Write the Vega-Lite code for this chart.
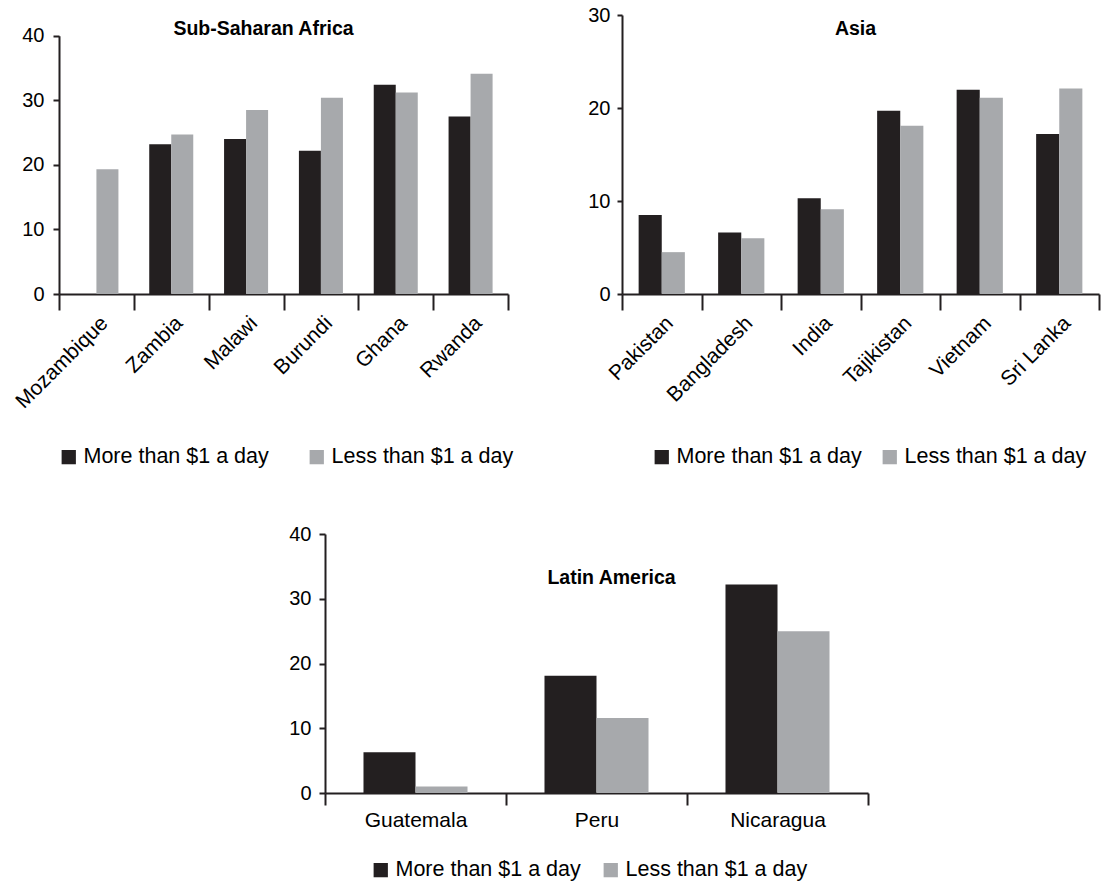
{
  "$schema": "https://vega.github.io/schema/vega-lite/v6.json",
  "padding": {"left": 11, "top": 5, "right": 2, "bottom": 5},
  "background": "white",
  "datasets": {
    "ssa": [
      {"country": "Mozambique", "series": "Less than $1 a day", "value": 19.3},
      {"country": "Zambia", "series": "More than $1 a day", "value": 23.2},
      {"country": "Zambia", "series": "Less than $1 a day", "value": 24.7},
      {"country": "Malawi", "series": "More than $1 a day", "value": 24.0},
      {"country": "Malawi", "series": "Less than $1 a day", "value": 28.5},
      {"country": "Burundi", "series": "More than $1 a day", "value": 22.2},
      {"country": "Burundi", "series": "Less than $1 a day", "value": 30.4},
      {"country": "Ghana", "series": "More than $1 a day", "value": 32.4},
      {"country": "Ghana", "series": "Less than $1 a day", "value": 31.2},
      {"country": "Rwanda", "series": "More than $1 a day", "value": 27.5},
      {"country": "Rwanda", "series": "Less than $1 a day", "value": 34.1}
    ],
    "asia": [
      {"country": "Pakistan", "series": "More than $1 a day", "value": 8.5},
      {"country": "Pakistan", "series": "Less than $1 a day", "value": 4.5},
      {"country": "Bangladesh", "series": "More than $1 a day", "value": 6.6},
      {"country": "Bangladesh", "series": "Less than $1 a day", "value": 6.0},
      {"country": "India", "series": "More than $1 a day", "value": 10.3},
      {"country": "India", "series": "Less than $1 a day", "value": 9.1},
      {"country": "Tajikistan", "series": "More than $1 a day", "value": 19.7},
      {"country": "Tajikistan", "series": "Less than $1 a day", "value": 18.1},
      {"country": "Vietnam", "series": "More than $1 a day", "value": 21.95},
      {"country": "Vietnam", "series": "Less than $1 a day", "value": 21.1},
      {"country": "Sri Lanka", "series": "More than $1 a day", "value": 17.2},
      {"country": "Sri Lanka", "series": "Less than $1 a day", "value": 22.1}
    ],
    "la": [
      {"country": "Guatemala", "series": "More than $1 a day", "value": 6.3},
      {"country": "Guatemala", "series": "Less than $1 a day", "value": 1.0},
      {"country": "Peru", "series": "More than $1 a day", "value": 18.1},
      {"country": "Peru", "series": "Less than $1 a day", "value": 11.6},
      {"country": "Nicaragua", "series": "More than $1 a day", "value": 32.2},
      {"country": "Nicaragua", "series": "Less than $1 a day", "value": 25.0}
    ]
  },
  "vconcat": [
    {
      "hconcat": [
        {
          "title": {"text": "Sub-Saharan Africa", "dx": -20, "offset": -24},
          "width": 449,
          "height": 279,
          "data": {"name": "ssa"},
          "mark": {"type": "bar"},
          "encoding": {
            "x": {"field": "country", "type": "nominal", "sort": null,
                  "scale": {"paddingInner": 0, "paddingOuter": 0},
                  "axis": {"title": null, "labelAngle": -45, "tickBand": "extent", "tickSize": 16, "labelPadding": 2, "labelFontSize": 21}},
            "xOffset": {"field": "series", "type": "nominal",
                  "scale": {"domain": ["More than $1 a day", "Less than $1 a day"], "paddingInner": 0, "paddingOuter": 0.7}},
            "y": {"field": "value", "type": "quantitative",
                  "scale": {"domain": [0, 40], "nice": false, "range": [279, 20.7]},
                  "axis": {"title": null, "values": [0, 10, 20, 30, 40], "tickSize": 6, "labelPadding": 9}},
            "color": {"field": "series", "type": "nominal",
                  "scale": {"domain": ["More than $1 a day", "Less than $1 a day"], "range": ["#231f20", "#a7a9ac"]},
                  "legend": {"title": null, "orient": "none", "legendX": -1, "legendY": 431, "columnPadding": 37}}
          }
        },
        {
          "title": {"text": "Asia", "dx": -5, "offset": -34},
          "width": 477,
          "height": 279,
          "data": {"name": "asia"},
          "mark": {"type": "bar"},
          "encoding": {
            "x": {"field": "country", "type": "nominal", "sort": null,
                  "scale": {"paddingInner": 0, "paddingOuter": 0},
                  "axis": {"title": null, "labelAngle": -45, "tickBand": "extent", "tickSize": 16, "labelPadding": 2, "labelFontSize": 21}},
            "xOffset": {"field": "series", "type": "nominal",
                  "scale": {"domain": ["More than $1 a day", "Less than $1 a day"], "paddingInner": 0, "paddingOuter": 0.72}},
            "y": {"field": "value", "type": "quantitative",
                  "scale": {"domain": [0, 30], "nice": false},
                  "axis": {"title": null, "values": [0, 10, 20, 30], "tickSize": 5, "labelPadding": 7}},
            "color": {"field": "series", "type": "nominal",
                  "scale": {"domain": ["More than $1 a day", "Less than $1 a day"], "range": ["#231f20", "#a7a9ac"]},
                  "legend": {"title": null, "orient": "none", "legendX": 29, "legendY": 431, "columnPadding": 17}}
          }
        }
      ],
      "spacing": 73,
      "resolve": {"scale": {"x": "independent", "y": "independent", "color": "independent", "xOffset": "independent"}, "legend": {"color": "independent"}}
    },
    {
      "hconcat": [
        {
          "width": 229,
          "height": 10,
          "data": {"values": []},
          "mark": {"type": "point", "opacity": 0},
          "encoding": {}
        },
        {
          "title": {"text": "Latin America", "dx": 15, "offset": -64},
          "width": 543,
          "height": 259,
          "data": {"name": "la"},
          "mark": {"type": "bar"},
          "encoding": {
            "x": {"field": "country", "type": "nominal", "sort": null,
                  "scale": {"paddingInner": 0, "paddingOuter": 0},
                  "axis": {"title": null, "labelAngle": 0, "tickBand": "extent", "tickSize": 12, "labelPadding": 4, "labelFontSize": 21}},
            "xOffset": {"field": "series", "type": "nominal",
                  "scale": {"domain": ["More than $1 a day", "Less than $1 a day"], "paddingInner": 0, "paddingOuter": 0.74}},
            "y": {"field": "value", "type": "quantitative",
                  "scale": {"domain": [0, 40], "nice": false},
                  "axis": {"title": null, "values": [0, 10, 20, 30, 40], "tickSize": 6, "labelPadding": 8}},
            "color": {"field": "series", "type": "nominal",
                  "scale": {"domain": ["More than $1 a day", "Less than $1 a day"], "range": ["#231f20", "#a7a9ac"]},
                  "legend": {"title": null, "orient": "none", "legendX": 45, "legendY": 325, "columnPadding": 19}}
          }
        }
      ],
      "spacing": 0,
      "resolve": {"scale": {"x": "independent", "y": "independent", "color": "independent", "xOffset": "independent"}, "legend": {"color": "independent"}}
    }
  ],
  "spacing": 56,
  "resolve": {"scale": {"x": "independent", "y": "independent", "color": "independent", "xOffset": "independent"}, "legend": {"color": "independent"}},
  "config": {
    "font": "Liberation Sans",
    "view": {"stroke": null},
    "axis": {
      "grid": false,
      "domainColor": "#231f20",
      "domainWidth": 2,
      "tickColor": "#231f20",
      "tickWidth": 2,
      "labelColor": "#000000",
      "labelFont": "Liberation Sans",
      "labelFontSize": 20
    },
    "legend": {
      "direction": "horizontal",
      "symbolType": "square",
      "symbolSize": 204,
      "symbolStrokeWidth": 0,
      "labelFont": "Liberation Sans",
      "labelFontSize": 21.5,
      "labelLimit": 400,
      "labelColor": "#000000",
      "labelOffset": 4,
      "padding": 0
    },
    "title": {
      "font": "Liberation Sans",
      "fontSize": 19.5,
      "fontWeight": "bold",
      "color": "#000000",
      "anchor": "middle",
      "frame": "group",
      "baseline": "alphabetic"
    }
  }
}
